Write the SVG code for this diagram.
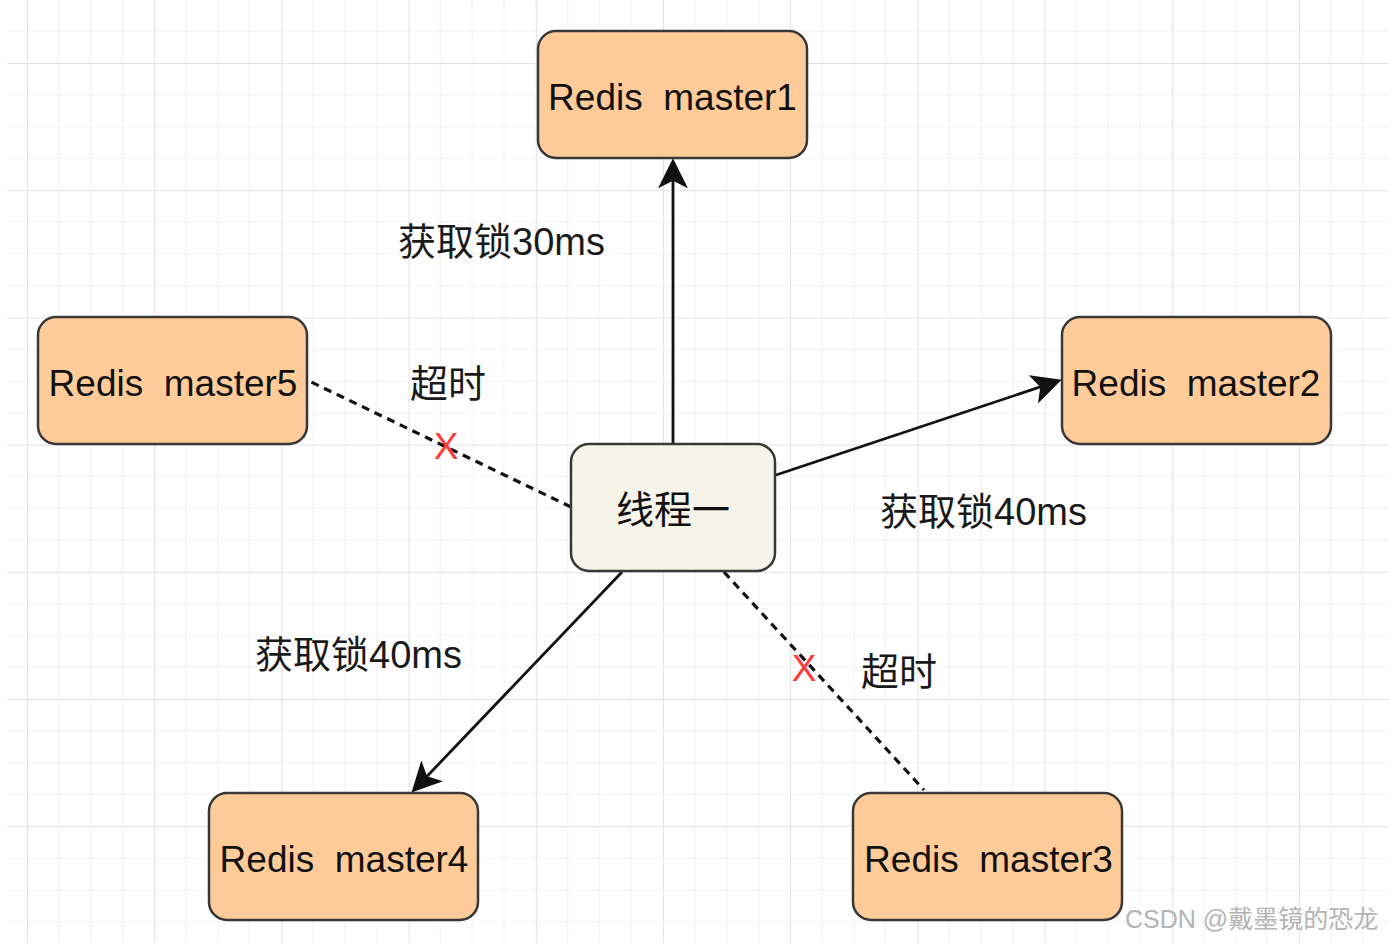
<svg xmlns="http://www.w3.org/2000/svg" width="1389" height="943" viewBox="0 0 1389 943">
  <style>
    .node rect { stroke: #383838; stroke-width: 2.5; }
    .master rect { fill: #FFCC99; }
    .ntext { font-family: "Liberation Sans", Arial, "Noto Sans CJK SC", sans-serif; font-size: 37px; fill: #111111; text-anchor: middle; white-space: pre; }
    .label { font-family: "Liberation Sans", Arial, "Noto Sans CJK SC", sans-serif; font-size: 38px; fill: #1a1a1a; }
    .edge { stroke: #111111; stroke-width: 2.8; fill: none; }
    .dashed { stroke-dasharray: 8 6; stroke-width: 3.2; }
    .cross { font-family: "Liberation Sans", Arial, sans-serif; font-size: 37px; fill: #ff3b3b; text-anchor: middle; }
    .wm { font-family: "Liberation Sans", Arial, "Noto Sans CJK SC", sans-serif; font-size: 25px; fill: #b4b4b4; }
  </style>
  <defs>
    <pattern id="grid" patternUnits="userSpaceOnUse" x="27" y="63" width="127.2" height="127.2">
      <path d="M31.8 0V127.2M63.6 0V127.2M95.4 0V127.2M0 31.8H127.2M0 63.6H127.2M0 95.4H127.2" stroke="#f1f1f1" stroke-width="1" fill="none"/>
      <path d="M0.5 0V127.2M0 0.5H127.2" stroke="#e3e3e3" stroke-width="1.2" fill="none"/>
    </pattern>
    <marker id="arrow" markerUnits="userSpaceOnUse" markerWidth="30" markerHeight="30" viewBox="0 0 28 28" refX="18" refY="14" orient="auto">
      <path d="M28,14 L0,0 L7,14 L0,28 Z" fill="#111111"/>
    </marker>
  </defs>

  <rect x="0" y="0" width="1389" height="943" fill="#ffffff"/>
  <rect x="7" y="0" width="1382" height="943" fill="url(#grid)"/>

  <g id="connectors">
    <line class="edge" x1="673" y1="444" x2="673" y2="169" marker-end="url(#arrow)"/>
    <line class="edge" x1="776" y1="475" x2="1051.5" y2="383.2" marker-end="url(#arrow)"/>
    <line class="edge" x1="622" y1="572" x2="418.9" y2="784.8" marker-end="url(#arrow)"/>
    <line class="edge dashed" x1="571" y1="507" x2="307" y2="380"/>
    <line class="edge dashed" x1="724" y1="572" x2="924" y2="790"/>
    <text class="cross" x="446" y="459">X</text>
    <text class="cross" x="804" y="681">X</text>
  </g>

  <g id="labels">
    <text class="label" x="398" y="255">获取锁30ms</text>
    <text class="label" x="410" y="397">超时</text>
    <text class="label" x="880" y="525">获取锁40ms</text>
    <text class="label" x="255" y="668">获取锁40ms</text>
    <text class="label" x="861" y="685">超时</text>
  </g>

  <g id="master1" class="node master">
    <rect x="538" y="31" width="269" height="127" rx="18"/>
    <text class="ntext" xml:space="preserve" x="672.5" y="110">Redis  master1</text>
  </g>
  <g id="master5" class="node master">
    <rect x="38" y="317" width="269" height="127" rx="18"/>
    <text class="ntext" xml:space="preserve" x="173" y="396">Redis  master5</text>
  </g>
  <g id="master2" class="node master">
    <rect x="1062" y="317" width="269" height="127" rx="18"/>
    <text class="ntext" xml:space="preserve" x="1196" y="396">Redis  master2</text>
  </g>
  <g id="thread1" class="node">
    <rect x="571" y="444" width="204" height="127" rx="18" fill="#f6f4e8"/>
    <text class="ntext" x="673" y="523" style="font-size:38px">线程一</text>
  </g>
  <g id="master4" class="node master">
    <rect x="209" y="793" width="269" height="127" rx="18"/>
    <text class="ntext" xml:space="preserve" x="344" y="872">Redis  master4</text>
  </g>
  <g id="master3" class="node master">
    <rect x="853" y="793" width="269" height="127" rx="18"/>
    <text class="ntext" xml:space="preserve" x="988.5" y="872">Redis  master3</text>
  </g>

  <text class="wm" x="1125" y="928">CSDN @戴墨镜的恐龙</text>
</svg>
